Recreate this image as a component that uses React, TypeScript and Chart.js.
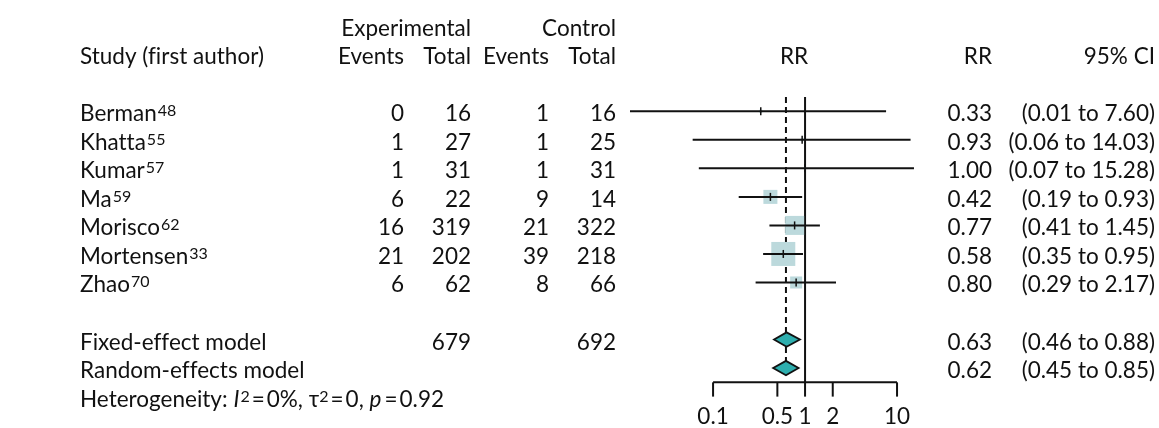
import React, { useEffect, useRef } from "react";
import { Chart, registerables } from "chart.js";

Chart.register(...registerables);

// ---------- data ----------
const studies = ["Berman", "Khatta", "Kumar", "Ma", "Morisco", "Mortensen", "Zhao"];
const refs = ["48", "55", "57", "59", "62", "33", "70"];
const expEvents = [0, 1, 1, 6, 16, 21, 6];
const expTotal = [16, 27, 31, 22, 319, 202, 62];
const ctrlEvents = [1, 1, 1, 9, 21, 39, 8];
const ctrlTotal = [16, 25, 31, 14, 322, 218, 66];
const rr = [0.33, 0.93, 1.0, 0.42, 0.77, 0.58, 0.8];
const ciLow = [0.01, 0.06, 0.07, 0.19, 0.41, 0.35, 0.29];
const ciHigh = [7.6, 14.03, 15.28, 0.93, 1.45, 0.95, 2.17];
const weights = [0.7, 0.7, 0.3, 15.1, 27.8, 44.3, 11.1];

const modelNames = ["Fixed-effect model", "Random-effects model"];
const modelRR = [0.63, 0.62];
const modelLow = [0.46, 0.45];
const modelHigh = [0.88, 0.85];
const pooledExpTotal = 679;
const pooledCtrlTotal = 692;

const xTicks = [0.1, 0.5, 1, 2, 10];
const hetI2 = "0%";
const hetTau2 = "0";
const hetP = "0.92";

// ---------- layout ----------
const W = 1159;
const H = 428;
const FONT = "Lato, 'Noto Sans', sans-serif";
const FS = 22.5;
const SUP = 16;
const SUP_RAISE = 5;
const BASE = 10;
const COL = { study: 80, expEv: 404, expTot: 471, ctlEv: 549, ctlTot: 616, rr: 992, ci: 1155, plot: 794 };
const ROW_MODEL = [8, 9];
const ROW_HET = 10;

const fmt = (v: number) => v.toFixed(2);

const forestPlugin = {
  id: "forest",
  beforeDatasetsDraw(chart: any) {
    const ctx = chart.ctx;
    const xs = chart.scales.x;
    const ys = chart.scales.y;
    ctx.save();
    ctx.strokeStyle = "#111";
    ctx.lineWidth = 2;
    const x1 = xs.getPixelForValue(1);
    ctx.beginPath();
    ctx.moveTo(x1, ys.getPixelForValue(-0.5));
    ctx.lineTo(x1, ys.getPixelForValue(9.5));
    ctx.stroke();
    const xr = xs.getPixelForValue(modelRR[1]);
    ctx.setLineDash([6, 4]);
    ctx.beginPath();
    ctx.moveTo(xr, ys.getPixelForValue(-0.5));
    ctx.lineTo(xr, ys.getPixelForValue(9));
    ctx.stroke();
    ctx.restore();
  },
  afterDatasetsDraw(chart: any) {
    const ctx = chart.ctx;
    const xs = chart.scales.x;
    const ys = chart.scales.y;
    const X = (v: number) => xs.getPixelForValue(Math.max(v, xs.min));
    const Y = (r: number) => ys.getPixelForValue(r);

    ctx.save();
    ctx.strokeStyle = "#111";
    studies.forEach((_, i) => {
      const y = Y(i);
      ctx.lineWidth = 2;
      ctx.beginPath();
      ctx.moveTo(X(ciLow[i]), y);
      ctx.lineTo(X(ciHigh[i]), y);
      ctx.stroke();
      const xe = X(rr[i]);
      ctx.lineWidth = 1.5;
      ctx.beginPath();
      ctx.moveTo(xe, y - 4);
      ctx.lineTo(xe, y + 4);
      ctx.stroke();
    });

    modelRR.forEach((est, k) => {
      const y = Y(ROW_MODEL[k]);
      const h = 7.2;
      ctx.beginPath();
      ctx.moveTo(X(modelLow[k]), y);
      ctx.lineTo(X(est), y - h);
      ctx.lineTo(X(modelHigh[k]), y);
      ctx.lineTo(X(est), y + h);
      ctx.closePath();
      ctx.fillStyle = "#2eaeae";
      ctx.fill();
      ctx.lineWidth = 1.8;
      ctx.strokeStyle = "#111";
      ctx.stroke();
    });

    // x axis
    ctx.lineWidth = 2;
    const ya = Y(9.5);
    ctx.beginPath();
    ctx.moveTo(X(xTicks[0]), ya);
    ctx.lineTo(X(xTicks[xTicks.length - 1]), ya);
    ctx.stroke();
    xTicks.forEach((t) => {
      ctx.beginPath();
      ctx.moveTo(X(t), ya);
      ctx.lineTo(X(t), Y(10));
      ctx.stroke();
    });

    ctx.fillStyle = "#111";
    ctx.textBaseline = "alphabetic";
    try { (ctx as any).letterSpacing = "0.01px"; } catch (e) {}
    const font = (size: number, italic = false) => `${italic ? "italic " : ""}${size}px ${FONT}`;
    const text = (s: string, x: number, row: number, align: CanvasTextAlign = "left") => {
      ctx.font = font(FS);
      ctx.textAlign = align;
      ctx.fillText(s, x, Y(row) + BASE);
    };

    xTicks.forEach((t) => text(String(t), X(t), 10.62, "center"));

    text("Experimental", COL.expTot, -3, "right");
    text("Control", COL.ctlTot, -3, "right");
    text("Study (first author)", COL.study, -2);
    text("Events", COL.expEv, -2, "right");
    text("Total", COL.expTot, -2, "right");
    text("Events", COL.ctlEv, -2, "right");
    text("Total", COL.ctlTot, -2, "right");
    text("RR", COL.plot, -2, "center");
    text("RR", COL.rr, -2, "right");
    text("95% CI", COL.ci, -2, "right");

    studies.forEach((name, i) => {
      text(name, COL.study, i);
      ctx.font = font(FS);
      const w = ctx.measureText(name).width;
      ctx.font = font(SUP);
      ctx.textAlign = "left";
      ctx.fillText(refs[i], COL.study + w + 1, Y(i) + BASE - SUP_RAISE);
      text(String(expEvents[i]), COL.expEv, i, "right");
      text(String(expTotal[i]), COL.expTot, i, "right");
      text(String(ctrlEvents[i]), COL.ctlEv, i, "right");
      text(String(ctrlTotal[i]), COL.ctlTot, i, "right");
      text(fmt(rr[i]), COL.rr, i, "right");
      text(`(${fmt(ciLow[i])} to ${fmt(ciHigh[i])})`, COL.ci, i, "right");
    });

    modelNames.forEach((name, k) => {
      const r = ROW_MODEL[k];
      text(name, COL.study, r);
      text(fmt(modelRR[k]), COL.rr, r, "right");
      text(`(${fmt(modelLow[k])} to ${fmt(modelHigh[k])})`, COL.ci, r, "right");
    });
    text(String(pooledExpTotal), COL.expTot, ROW_MODEL[0], "right");
    text(String(pooledCtrlTotal), COL.ctlTot, ROW_MODEL[0], "right");

    const segs: { t: string; it?: boolean; sup?: boolean; gap?: number }[] = [
      { t: "Heterogeneity: " },
      { t: "I", it: true },
      { t: "2", sup: true },
      { t: "=", gap: 2 },
      { t: `${hetI2}, `, gap: 2 },
      { t: "τ" },
      { t: "2", sup: true },
      { t: "=", gap: 2 },
      { t: `${hetTau2}, `, gap: 2 },
      { t: "p", it: true },
      { t: "=", gap: 2 },
      { t: hetP, gap: 2 },
    ];
    let cx = COL.study;
    const yb = Y(ROW_HET) + BASE;
    ctx.textAlign = "left";
    segs.forEach((s) => {
      cx += s.gap || 0;
      ctx.font = font(s.sup ? SUP : FS, !!s.it);
      ctx.fillText(s.t, cx, s.sup ? yb - SUP_RAISE : yb);
      cx += ctx.measureText(s.t).width + (s.it ? 1 : 0);
    });
    ctx.restore();
  },
};

export default function App() {
  const ref = useRef<HTMLCanvasElement | null>(null);
  useEffect(() => {
    if (!ref.current) return;
    const wMax = Math.max(...weights);
    const maxSide = 24;
    const radii = weights.map((w) => (maxSide * Math.sqrt(w / wMax)) / Math.SQRT2);
    const chart = new Chart(ref.current, {
      type: "scatter",
      data: {
        datasets: [
          {
            data: rr.map((v, i) => ({ x: v, y: i })),
            pointStyle: "rect",
            pointRadius: radii,
            pointHoverRadius: radii,
            backgroundColor: "#bcd9dc",
            borderWidth: 0,
            clip: false as any,
          },
        ],
      },
      options: {
        animation: false,
        responsive: false,
        events: [],
        layout: { autoPadding: false, padding: { left: 630, right: W - 958, top: 0, bottom: 0 } },
        scales: {
          x: { type: "logarithmic", min: 0.0125, max: 46, display: false },
          y: { type: "linear", min: -3.9, max: 11.1, reverse: true, display: false },
        },
        plugins: { legend: { display: false }, tooltip: { enabled: false } },
      },
      plugins: [forestPlugin],
    });
    return () => chart.destroy();
  }, []);
  return (
    <div style={{ position: "absolute", left: 0, top: 0, width: W, height: H, background: "#fff" }}>
      <canvas ref={ref} width={W} height={H} style={{ width: W, height: H, display: "block" }} />
    </div>
  );
}
